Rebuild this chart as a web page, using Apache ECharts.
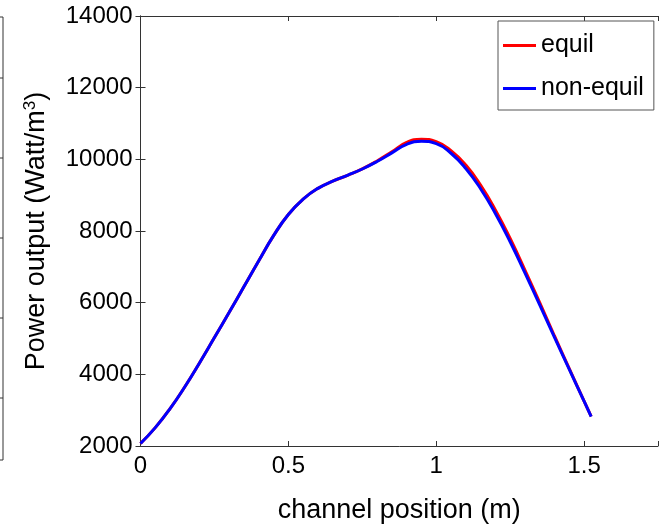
<!DOCTYPE html>
<html>
<head>
<meta charset="utf-8">
<script src="https://cdn.jsdelivr.net/npm/echarts@6/dist/echarts.min.js"></script>
<style>
html,body{margin:0;padding:0;background:#fff;}
#chart{width:663px;height:524px;}
</style>
</head>
<body>
<div id="chart"></div>
<script>
// channel position (m)
var positions = [0, 0.05, 0.1, 0.15, 0.2, 0.25, 0.3, 0.35, 0.4, 0.45, 0.5, 0.55, 0.6, 0.65, 0.7, 0.75, 0.8, 0.85, 0.9, 0.95, 1.0, 1.05, 1.1, 1.15, 1.2, 1.25, 1.3, 1.35, 1.4, 1.45, 1.5, 1.524];
// power output (Watt/m^3)
var equil = [2070, 2512, 3042, 3654, 4326, 5026, 5730, 6450, 7170, 7870, 8460, 8890, 9190, 9390, 9555, 9735, 9955, 10210, 10470, 10560, 10490, 10240, 9840, 9280, 8590, 7790, 6910, 6000, 5070, 4160, 3255, 2825];
var nonEquil = [2070, 2512, 3042, 3654, 4326, 5026, 5730, 6450, 7170, 7870, 8460, 8890, 9190, 9390, 9555, 9730, 9940, 10180, 10420, 10505, 10440, 10170, 9745, 9180, 8490, 7700, 6830, 5940, 5030, 4140, 3250, 2820];
var seriesNames = ['equil', 'non-equil'];
var xTicks = [0, 0.5, 1, 1.5];
var yTicks = [2000, 4000, 6000, 8000, 10000, 12000, 14000];

function pairs(xs, ys) { return xs.map(function (x, i) { return [x, ys[i]]; }); }

var FONT = '"Liberation Sans", Arial, Helvetica, sans-serif';
var AX = '#333333';

var chart = echarts.init(document.getElementById('chart'), null, {renderer: 'canvas'});
var axisCommonX = {
  type: 'value', min: 0, max: 1.75, interval: 0.5,
  axisLine: {show: true, lineStyle: {color: AX, width: 1}},
  axisTick: {show: true, inside: true, length: 5, lineStyle: {color: AX}},
  splitLine: {show: false}
};
var axisCommonY = {
  type: 'value', min: 2000, max: 14000, interval: 2000,
  axisLine: {show: true, lineStyle: {color: AX, width: 1}},
  axisTick: {show: true, inside: true, length: 5, lineStyle: {color: AX}},
  splitLine: {show: false}
};
var option = {
  backgroundColor: '#ffffff',
  animation: false,
  grid: {left: 140.5, right: 5, top: 16, bottom: 78, containLabel: false, outerBoundsMode: 'none'},
  legend: {
    data: seriesNames,
    orient: 'vertical',
    left: 498, top: 21,
    width: 155,
    padding: [9, 6, 6, 5],
    itemGap: 12,
    icon: 'rect',
    itemWidth: 33, itemHeight: 3,
    borderColor: '#555555', borderWidth: 1,
    backgroundColor: '#ffffff',
    textStyle: {fontFamily: FONT, fontSize: 25, color: '#000', lineHeight: 31, padding: [0, 4, 0, 0]}
  },
  xAxis: [
    Object.assign({}, axisCommonX, {
      position: 'bottom',
      name: 'channel position (m)', nameLocation: 'middle', nameGap: 51,
      nameTextStyle: {fontFamily: FONT, fontSize: 27, color: '#000'},
      axisLabel: {show: true, margin: 8, fontFamily: FONT, fontSize: 24, color: '#000',
        formatter: function (v) { return xTicks.indexOf(v) >= 0 ? String(v) : ''; }}
    }),
    Object.assign({}, axisCommonX, {position: 'top', axisLabel: {show: false}})
  ],
  yAxis: [
    Object.assign({}, axisCommonY, {
      position: 'left',
      name: 'Power output (Watt/m{sup|3})', nameLocation: 'middle', nameGap: 88, nameRotate: 90,
      nameTextStyle: {fontFamily: FONT, fontSize: 27, color: '#000',
        rich: {sup: {fontFamily: FONT, fontSize: 17, color: '#000', verticalAlign: 'top', padding: [0, 0, 14, 0]}}},
      axisLabel: {show: true, margin: 8, fontFamily: FONT, fontSize: 24, color: '#000',
        formatter: function (v) { return yTicks.indexOf(v) >= 0 ? String(v) : ''; }}
    }),
    Object.assign({}, axisCommonY, {position: 'right', axisLabel: {show: false}})
  ],
  graphic: [
    {type: 'polyline', silent: true, shape: {points: [[0, 17], [3, 17], [3, 460], [0, 460]]}, style: {stroke: '#333', lineWidth: 1, fill: null}},
    {type: 'line', silent: true, shape: {x1: 0, y1: 78, x2: 3, y2: 78}, style: {stroke: '#333', lineWidth: 1}},
    {type: 'line', silent: true, shape: {x1: 0, y1: 158, x2: 3, y2: 158}, style: {stroke: '#333', lineWidth: 1}},
    {type: 'line', silent: true, shape: {x1: 0, y1: 238, x2: 3, y2: 238}, style: {stroke: '#333', lineWidth: 1}},
    {type: 'line', silent: true, shape: {x1: 0, y1: 318, x2: 3, y2: 318}, style: {stroke: '#333', lineWidth: 1}},
    {type: 'line', silent: true, shape: {x1: 0, y1: 398, x2: 3, y2: 398}, style: {stroke: '#333', lineWidth: 1}}
  ],
  series: [
    {name: seriesNames[0], type: 'line', data: pairs(positions, equil), smooth: 0.5, showSymbol: false, symbol: 'none',
      lineStyle: {color: '#ff0000', width: 3}, itemStyle: {color: '#ff0000'}, z: 2},
    {name: seriesNames[1], type: 'line', data: pairs(positions, nonEquil), smooth: 0.5, showSymbol: false, symbol: 'none',
      lineStyle: {color: '#0000ff', width: 3}, itemStyle: {color: '#0000ff'}, z: 3}
  ]
};
chart.setOption(option);
</script>
</body>
</html>
